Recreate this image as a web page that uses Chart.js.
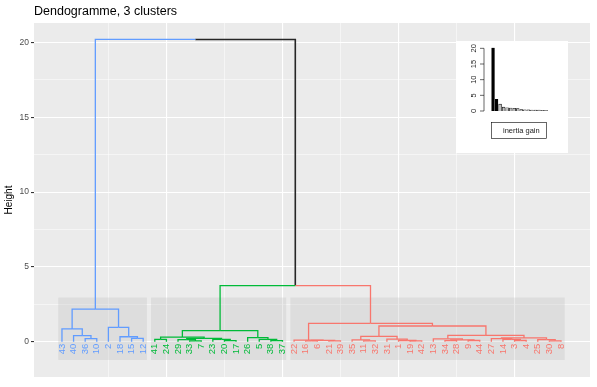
<!DOCTYPE html>
<html>
<head>
<meta charset="utf-8">
<script src="https://cdn.jsdelivr.net/npm/chart.js@4.4.1/dist/chart.umd.min.js"></script>
<style>
html, body { margin: 0; padding: 0; background: #fff; }
#wrap { position: relative; width: 597px; height: 387px; }
#inset { position: absolute; left: 456px; top: 41px; background: #fff; }
</style>
</head>
<body>
<div id="wrap">
  <canvas id="dend" width="597" height="387"></canvas>
  <canvas id="inset" width="112" height="112"></canvas>
</div>
<script>
// feuilles dans l'ordre du dendrogramme
const leafOrder = [43, 40, 36, 10, 2, 18, 15, 12,
  41, 24, 29, 33, 7, 23, 20, 17, 26, 5, 38, 37,
  22, 16, 6, 21, 39, 35, 11, 32, 31, 1, 19, 42, 13, 34, 28, 9, 44, 27, 14, 3, 4, 25, 30, 8];
const clusterSizes = [8, 12, 24];
const clusterColors = ['#619CFF', '#00BA38', '#F8766D'];

// fusions facon hclust : negatif = individu, positif = ligne de fusion
const mergeLeft  = [-36, -40, -43, -15, -18, -2, 3, -33, -29, -20, -23, 9, -41, 13, -38, -5, -26, 14,
  -16, -21, 19, -22, -11, -35, -19, -1, -31, 24, -34, -9, 29, -13, -3, -14, -27, -30, -25, 35, 32, 28, 22, 18, 7];
const mergeRight = [-10, 1, 2, -12, 4, 5, 6, -7, 8, -17, 10, 11, -24, 12, -37, 15, 16, 17,
  -6, -39, 20, 21, -32, 23, -42, 25, 26, 27, -28, -44, 30, 31, -4, 33, 34, -8, 36, 37, 38, 39, 40, 41, 42];
const mergeHeight = [0.20, 0.40, 0.85, 0.22, 0.33, 0.96, 2.17, 0.05, 0.14, 0.07, 0.16, 0.22, 0.15, 0.30, 0.07, 0.15, 0.27, 0.74,
  0.05, 0.06, 0.09, 0.11, 0.06, 0.12, 0.05, 0.08, 0.17, 0.36, 0.07, 0.08, 0.12, 0.19, 0.08, 0.15, 0.20, 0.06, 0.14, 0.25, 0.42, 1.05, 1.23, 3.75, 20.2];

const heightTicks = [0, 5, 10, 15, 20];
const inertiaGain = [20.2, 3.75, 2.17, 1.23, 1.05, 0.96, 0.85, 0.74, 0.42, 0.40, 0.36, 0.33, 0.30, 0.27, 0.25, 0.22];
const inertiaTicks = [0, 5, 10, 15, 20];

// position et cluster de chaque feuille
const leafPos = {};
const leafCl = {};
leafOrder.forEach((id, i) => { leafPos[id] = i + 1; });
let n = 0;
clusterSizes.forEach((size, c) => {
  for (let j = 0; j < size; j++) leafCl[leafOrder[n++]] = c;
});

const nodeX = [], nodeH = [], nodeCl = [];
function infos(ref) {
  if (ref < 0) return { x: leafPos[-ref], h: 0, cl: leafCl[-ref] };
  return { x: nodeX[ref - 1], h: nodeH[ref - 1], cl: nodeCl[ref - 1] };
}

const segments = [];
mergeHeight.forEach((h, i) => {
  const a = infos(mergeLeft[i]);
  const b = infos(mergeRight[i]);
  const x = (a.x + b.x) / 2;
  nodeX.push(x);
  nodeH.push(h);
  nodeCl.push(a.cl === b.cl ? a.cl : -1);
  [a, b].forEach(c => {
    segments.push({
      data: [{ x: x, y: h }, { x: c.x, y: h }, { x: c.x, y: c.h }],
      showLine: true,
      borderColor: c.cl < 0 ? '#262626' : clusterColors[c.cl],
      borderWidth: c.cl < 0 ? 1.6 : 1.3,
      pointRadius: 0,
      fill: false
    });
  });
});

function multiple(v, step) {
  return Math.abs(v / step - Math.round(v / step)) < 1e-6;
}

const fond = {
  id: 'fond',
  beforeDraw(chart) {
    const a = chart.chartArea;
    const ctx = chart.ctx;
    ctx.save();
    ctx.fillStyle = '#EBEBEB';
    ctx.fillRect(a.left, a.top, a.right - a.left, a.bottom - a.top);
    ctx.restore();
  },
  beforeDatasetsDraw(chart) {
    // rectangles gris des clusters
    const xs = chart.scales.x, ys = chart.scales.y;
    const ctx = chart.ctx;
    ctx.save();
    ctx.fillStyle = 'rgba(190,190,190,0.3)';
    let debut = 1;
    clusterSizes.forEach(size => {
      const x1 = xs.getPixelForValue(debut - 0.32);
      const x2 = xs.getPixelForValue(debut + size - 1 + 0.32);
      const y1 = ys.getPixelForValue(2.95);
      const y2 = ys.getPixelForValue(-1.22);
      ctx.fillRect(x1, y1, x2 - x1, y2 - y1);
      debut += size;
    });
    ctx.restore();
  },
  afterDatasetsDraw(chart) {
    const xs = chart.scales.x, ys = chart.scales.y;
    const ctx = chart.ctx;
    ctx.save();
    ctx.font = '9.5px "Liberation Sans", Arial, sans-serif';
    ctx.textAlign = 'right';
    ctx.textBaseline = 'middle';
    leafOrder.forEach(id => {
      ctx.save();
      ctx.translate(xs.getPixelForValue(leafPos[id]), ys.getPixelForValue(0) + 2);
      ctx.rotate(-Math.PI / 2);
      ctx.fillStyle = clusterColors[leafCl[id]];
      ctx.fillText(String(id), 0, 0);
      ctx.restore();
    });
    // titre
    ctx.font = '12.5px "Liberation Sans", Arial, sans-serif';
    ctx.textAlign = 'left';
    ctx.fillStyle = '#000';
    ctx.fillText('Dendogramme, 3 clusters', chart.chartArea.left, 12);
    ctx.restore();
  }
};

new Chart(document.getElementById('dend'), {
  type: 'scatter',
  data: { datasets: segments },
  options: {
    responsive: false,
    animation: false,
    layout: { padding: { top: 23, right: 7, bottom: 10, left: 0 } },
    plugins: { legend: { display: false }, tooltip: { enabled: false } },
    scales: {
      x: {
        type: 'linear', min: -1.41, max: 46.5,
        ticks: { display: false, stepSize: 5, maxTicksLimit: 30 },
        grid: {
          color: '#FFFFFF',
          drawTicks: false,
          lineWidth: c => multiple(c.tick.value, 10) ? 1.1 : (multiple(c.tick.value, 5) ? 0.5 : 0)
        },
        border: { display: false },
        afterFit: s => { s.height = 0; }
      },
      y: {
        type: 'linear', min: -2.36, max: 21.3,
        afterBuildTicks: s => {
          const t = [];
          for (let v = -2.5; v <= 21.3; v += 2.5) if (v >= -2.36) t.push({ value: v });
          s.ticks = t;
        },
        ticks: {
          color: '#4D4D4D',
          padding: 2,
          font: { size: 8.5, family: '"Liberation Sans", Arial, sans-serif' },
          callback: v => heightTicks.includes(v) ? String(v) : ''
        },
        grid: {
          color: '#FFFFFF',
          lineWidth: c => multiple(c.tick.value, 5) ? 1.1 : 0.5,
          tickLength: 3,
          tickColor: c => multiple(c.tick.value, 5) ? '#333' : 'rgba(0,0,0,0)'
        },
        border: { display: false },
        title: {
          display: true, text: 'Height', color: '#000', padding: { top: 3, bottom: 0 },
          font: { size: 10, family: '"Liberation Sans", Arial, sans-serif' }
        },
        afterFit: s => { s.width = 34; }
      }
    }
  },
  plugins: [fond]
});

// encart : gain d'inertie
const axeEncart = {
  id: 'axeEncart',
  afterDraw(chart) {
    const ys = chart.scales.y;
    const left = chart.chartArea.left;
    const ctx = chart.ctx;
    ctx.save();
    ctx.strokeStyle = '#000';
    ctx.lineWidth = 0.6;
    ctx.beginPath();
    ctx.moveTo(left, ys.getPixelForValue(inertiaTicks[0]));
    ctx.lineTo(left, ys.getPixelForValue(inertiaTicks[inertiaTicks.length - 1]));
    inertiaTicks.forEach(v => {
      const y = ys.getPixelForValue(v);
      ctx.moveTo(left - 4, y);
      ctx.lineTo(left, y);
    });
    ctx.stroke();
    ctx.fillStyle = '#222';
    ctx.font = '7.5px "Liberation Sans", Arial, sans-serif';
    ctx.textAlign = 'center';
    ctx.textBaseline = 'middle';
    inertiaTicks.forEach(v => {
      ctx.save();
      ctx.translate(left - 10, ys.getPixelForValue(v));
      ctx.rotate(-Math.PI / 2);
      ctx.fillText(String(v), 0, 0);
      ctx.restore();
    });
    // legende
    ctx.strokeRect(35.5, 81.5, 55, 16);
    ctx.textAlign = 'left';
    ctx.fillText('inertia gain', 47, 89.5);
    ctx.restore();
  }
};

new Chart(document.getElementById('inset'), {
  type: 'bar',
  data: {
    datasets: [{
      data: inertiaGain.map((v, i) => ({ x: i + 1, y: v })),
      backgroundColor: inertiaGain.map((v, i) => i < 2 ? '#000' : '#BEBEBE'),
      borderColor: '#000',
      borderWidth: 0.6,
      barThickness: 2.8
    }]
  },
  options: {
    responsive: false,
    animation: false,
    layout: { padding: { left: 28, top: 6.4, right: 16.7, bottom: 42 } },
    plugins: { legend: { display: false }, tooltip: { enabled: false } },
    scales: {
      x: { type: 'linear', min: -1.56, max: 17.5, offset: false, display: false },
      y: { min: 0, max: 20.3, display: false }
    }
  },
  plugins: [axeEncart]
});
</script>
</body>
</html>
